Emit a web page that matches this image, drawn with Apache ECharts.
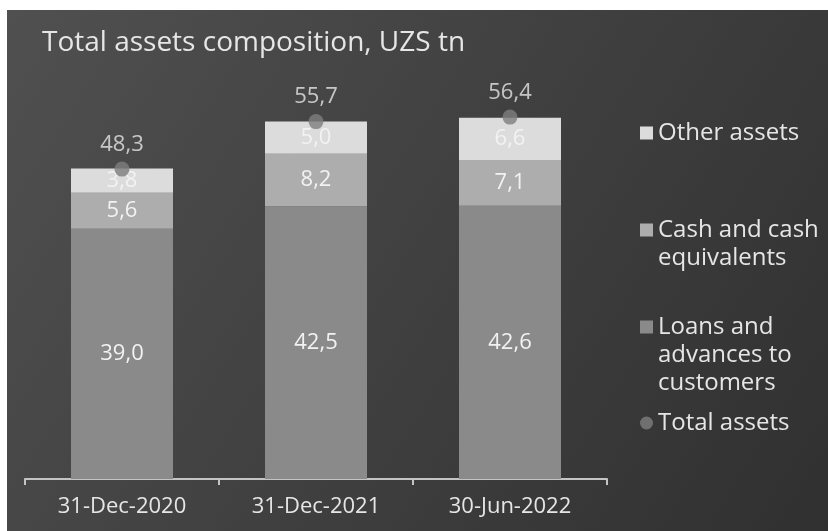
<!DOCTYPE html>
<html>
<head>
<meta charset="utf-8">
<script src="https://cdn.jsdelivr.net/npm/echarts@6/dist/echarts.min.js"></script>
<style>
html,body{margin:0;padding:0;background:#ffffff;}
#chart{width:828px;height:531px;}
</style>
</head>
<body>
<div id="chart"></div>
<script>
var categories = ['31-Dec-2020', '31-Dec-2021', '30-Jun-2022'];
var loans = [39.0, 42.5, 42.6];
var cash = [5.6, 8.2, 7.1];
var other = [3.8, 5.0, 6.6];
var totals = [48.3, 55.7, 56.4];
var seriesNames = ['Loans and advances to customers', 'Cash and cash equivalents', 'Other assets', 'Total assets'];
var legendTexts = {
  'Other assets': 'Other assets',
  'Cash and cash equivalents': '\nCash and cash\nequivalents',
  'Loans and advances to customers': '\n\nLoans and\nadvances to\ncustomers',
  'Total assets': 'Total assets'
};
var titleText = 'Total assets composition, UZS tn';

var FONT = 'Open Sans';
function fmt(v) { return v.toFixed(1).replace('.', ','); }

var chart = echarts.init(document.getElementById('chart'), null, {renderer: 'canvas'});

function legendAt(name, icon, top) {
  return {
    data: [{name: name, icon: icon}],
    left: 640,
    top: top,
    padding: 0,
    orient: 'vertical',
    itemWidth: 13,
    itemHeight: 13,
    itemGap: 0,
    selectedMode: false,
    formatter: function (n) { return legendTexts[n]; },
    textStyle: {color: '#e6e6e6', fontFamily: FONT, fontSize: 24, lineHeight: 28}
  };
}

var barLabel = {
  show: true,
  position: 'inside',
  color: '#f2f2f2',
  fontFamily: FONT,
  fontSize: 22,
  formatter: function (p) { return fmt(p.value); }
};

var option = {
  animation: false,
  backgroundColor: '#ffffff',
  graphic: [{
    type: 'rect',
    z: -100,
    silent: true,
    shape: {x: 7, y: 10, width: 821, height: 521},
    style: {
      fill: new echarts.graphic.LinearGradient(0, 0, 1, 1, [
        {offset: 0, color: '#505050'},
        {offset: 1, color: '#303030'}
      ])
    }
  }],
  title: {
    text: titleText,
    left: 42,
    top: 27,
    padding: 0,
    textStyle: {color: '#e6e6e6', fontFamily: FONT, fontSize: 28, fontWeight: 'normal', lineHeight: 32}
  },
  legend: [
    legendAt('Other assets', 'rect', 119),
    legendAt('Cash and cash equivalents', 'rect', 188),
    legendAt('Loans and advances to customers', 'rect', 257),
    legendAt('Total assets', 'circle', 409)
  ],
  grid: {left: 25, right: 221, top: 94, bottom: 52, containLabel: false},
  xAxis: {
    type: 'category',
    data: categories,
    axisLine: {show: true, lineStyle: {color: '#c4c4c4', width: 2}},
    axisTick: {show: true, inside: false, length: 6, lineStyle: {color: '#c4c4c4', width: 2}},
    axisLabel: {color: '#e6e6e6', fontFamily: FONT, fontSize: 22, margin: 17}
  },
  yAxis: {
    type: 'value',
    min: 0,
    max: 60,
    show: false,
    splitLine: {show: false}
  },
  series: [
    {name: seriesNames[0], type: 'bar', stack: 'a', data: loans, barWidth: 102,
     itemStyle: {color: '#8a8a8a'}, label: barLabel},
    {name: seriesNames[1], type: 'bar', stack: 'a', data: cash, barWidth: 102,
     itemStyle: {color: '#adadad'}, label: barLabel},
    {name: seriesNames[2], type: 'bar', stack: 'a', data: other, barWidth: 102,
     itemStyle: {color: '#dcdcdc'}, label: barLabel},
    {name: seriesNames[3], type: 'scatter', data: totals, symbol: 'circle', symbolSize: 15, z: 5,
     itemStyle: {color: '#7e7e7e'},
     label: {show: true, position: 'top', distance: 6, color: '#e6e6e6', fontFamily: FONT, fontSize: 22,
             formatter: function (p) { return fmt(p.value); }}}
  ]
};
chart.setOption(option);
</script>
</body>
</html>
